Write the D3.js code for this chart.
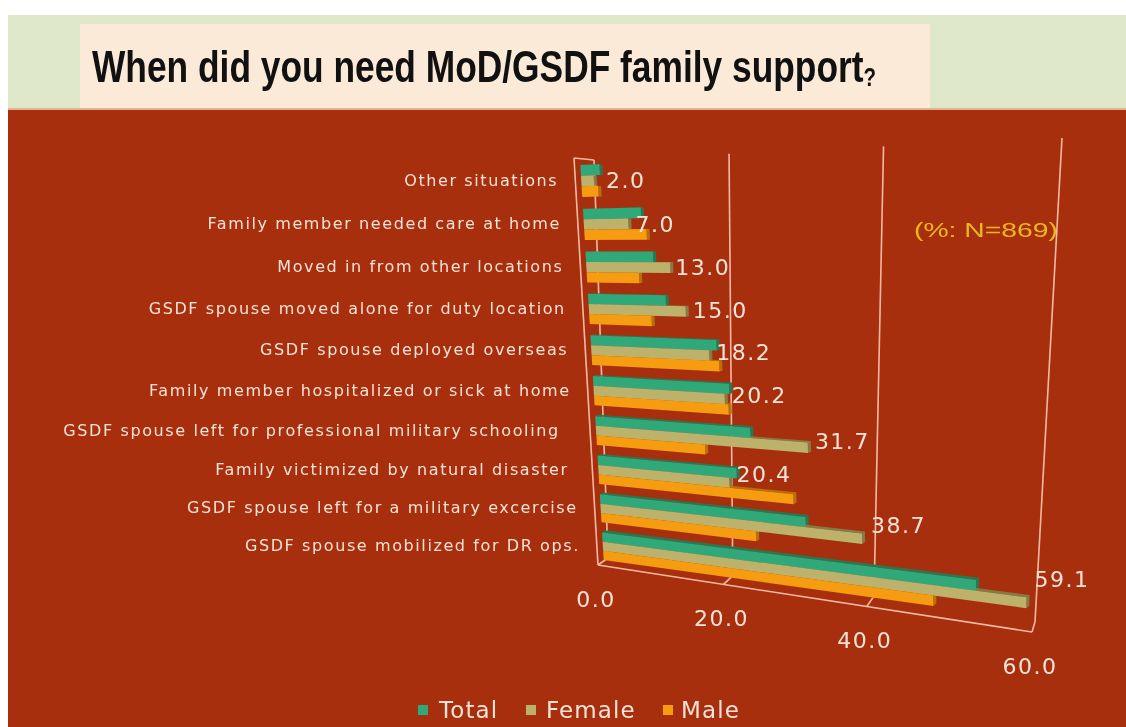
<!DOCTYPE html>
<html><head><meta charset="utf-8">
<script src="https://cdn.jsdelivr.net/npm/d3@7"></script>
<style>
html,body{margin:0;padding:0;background:#fff}
svg{display:block;filter:blur(0.5px)}
text{white-space:pre}
</style></head><body><svg id="c" width="1126" height="727"></svg>
<script>
const categories=["Other situations","Family member needed care at home","Moved in from other locations","GSDF spouse moved alone for duty location","GSDF spouse deployed overseas","Family member hospitalized or sick at home","GSDF spouse left for professional military schooling  ","Family victimized by natural disaster ","GSDF spouse left for a military excercise","GSDF spouse mobilized for DR ops."];
const seriesNames=["Total","Female","Male"];
const total=[3.0,9.0,10.5,12.1,19.3,20.9,23.7,21.5,31.1,53.1];
const female=[2.0,7.0,13.0,15.0,18.2,20.2,31.7,20.4,38.7,59.1];
const male=[2.6,9.7,8.2,9.8,19.6,20.7,17.0,29.5,24.0,47.8];
const ticks=[0,20,40,60];
const colors=["#2fa87a","#bcb26c","#f59c10"];
const darkColors=["#257a54","#857c45","#b8700c"];
const labelNudgeX=[5,0,-2,0,0,0,0,0,2,1];
const labelNudgeY=[-1,0,-1,-1,-3,-4,-7,-9,-14,-24];
const ink="#f7e3d6", rule="#f6b9a2";

const svg=d3.select("#c");
function homography(q){
  const [a,b,c,d]=q;
  const dx1=b[0]-c[0],dx2=d[0]-c[0],sx=a[0]-b[0]+c[0]-d[0];
  const dy1=b[1]-c[1],dy2=d[1]-c[1],sy=a[1]-b[1]+c[1]-d[1];
  const den=dx1*dy2-dx2*dy1;
  const g=(sx*dy2-dx2*sy)/den,h=(dx1*sy-sx*dy1)/den;
  const A=b[0]-a[0]+g*b[0],B=d[0]-a[0]+h*d[0],C=a[0];
  const D=b[1]-a[1]+g*b[1],E=d[1]-a[1]+h*d[1],F=a[1];
  return (u,t)=>{const w=g*u+h*t+1;return [(A*u+B*t+C)/w,(D*u+E*t+F)/w];};
}
const barPlane=homography([[580,159],[1037,139],[1034,626],[604,565]]);
const wallPlane=homography([[594,160],[1062,138],[1035,622],[608,558]]);
const floorPlane=homography([[608,558],[1035,622],[1032,632],[598,565]]);

const x=d3.scaleLinear().domain([0,60]).range([0,1]);
const K=0.025;
const depthT=t=>t*(1+K)/(1+K*t);
const y=d3.scaleBand().domain(categories).range([0,1]).paddingInner(0.27).paddingOuter(0.135);
const ySub=d3.scaleBand().domain(seriesNames).range([0,y.bandwidth()]);
const P=(v,t)=>barPlane(x(v),depthT(t));
const depthOff=t=>[3,0.5-3*t];

const line=d3.line();
svg.append("rect").attr("x",8).attr("y",15).attr("width",1118).attr("height",93).attr("fill","#dfe8c8");
svg.append("rect").attr("x",80).attr("y",24).attr("width",850).attr("height",84).attr("fill","#fbead8");
svg.append("rect").attr("x",8).attr("y",108).attr("width",1118).attr("height",3).attr("fill","#e0b48e");
svg.append("rect").attr("x",8).attr("y",110).attr("width",1118).attr("height",617).attr("fill","#a72f0e");
const title=svg.append("text").attr("x",92).attr("y",82).attr("font-family","'Liberation Sans Narrow','Liberation Sans'").attr("font-weight",700).attr("font-size",45).attr("fill","#111").attr("textLength",784).attr("lengthAdjust","spacingAndGlyphs");
title.append("tspan").text("When did you need MoD/GSDF family support");
title.append("tspan").attr("font-family","'Liberation Sans'").attr("font-size",26).attr("dy",4).text("?");

const frame=svg.append("g").attr("fill","none").attr("stroke",rule).attr("stroke-width",1.6);
ticks.forEach(v=>{
  frame.append("path").attr("d",line([wallPlane(x(v),0),wallPlane(x(v),1)]));
  frame.append("path").attr("d",line([floorPlane(x(v),0),floorPlane(x(v),1)]));
});
frame.append("path").attr("d",line([floorPlane(0,1),floorPlane(1,1)]));
frame.append("path").attr("d",line([[574,158],wallPlane(0,0)]));
frame.append("path").attr("d",line([[574,158],floorPlane(0,1)]));

categories.forEach((cat,i)=>{
  const vals=[total[i],female[i],male[i]];
  const g=svg.append("g");
  seriesNames.forEach((s,k)=>{
    const t0=y(cat)+ySub(s),t1=t0+ySub.bandwidth(),v=vals[k];
    const off=depthOff(t0);
    const sh=p=>[p[0]+off[0],p[1]+off[1]];
    g.append("path").attr("fill",darkColors[k]).attr("d",line([P(0,t0),sh(P(0,t0)),sh(P(v,t0)),sh(P(v,t1)),P(v,t1),P(v,t0)])+"Z");
  });
  seriesNames.forEach((s,k)=>{
    const t0=y(cat)+ySub(s),t1=t0+ySub.bandwidth(),v=vals[k];
    g.append("path").attr("fill",colors[k]).attr("d",line([P(0,t0),P(v,t0),P(v,t1),P(0,t1)])+"Z");
  });
});

categories.forEach(cat=>{
  const p=P(0,y(cat)+y.bandwidth()/2);
  svg.append("text").attr("x",p[0]-23).attr("y",p[1]+5).attr("text-anchor","end")
    .attr("font-family","'DejaVu Sans'").attr("font-size",16).attr("letter-spacing",1.6).attr("fill",ink).text(cat);
});
categories.forEach((cat,i)=>{
  const t=y(cat)+ySub("Female")+ySub.bandwidth()/2;
  const p=P(female[i],t);
  svg.append("text").attr("x",p[0]+7+labelNudgeX[i]).attr("y",p[1]+8+labelNudgeY[i])
    .attr("font-family","'DejaVu Sans'").attr("font-size",22).attr("letter-spacing",1.5).attr("fill",ink).text(female[i].toFixed(1));
});
ticks.forEach(v=>{
  const p=floorPlane(x(v),1);
  svg.append("text").attr("x",p[0]-2).attr("y",p[1]+42).attr("text-anchor","middle")
    .attr("font-family","'DejaVu Sans'").attr("font-size",22).attr("letter-spacing",1.5).attr("fill",ink).text(v.toFixed(1));
});
svg.append("text").attr("x",914).attr("y",237).attr("font-family","'Liberation Sans'").attr("font-size",21).attr("fill","#e9b91c").attr("textLength",144).attr("lengthAdjust","spacingAndGlyphs").text("(%: N=869)");
const lgSwatch=d3.scaleOrdinal().domain(seriesNames).range([418,526,663]);
const lgText=d3.scaleOrdinal().domain(seriesNames).range([439,546,681]);
seriesNames.forEach((s,k)=>{
  svg.append("rect").attr("x",lgSwatch(s)).attr("y",705).attr("width",10).attr("height",10).attr("fill",colors[k]);
  svg.append("text").attr("x",lgText(s)).attr("y",718).attr("font-family","'DejaVu Sans'").attr("font-size",23).attr("letter-spacing",1.1).attr("fill",ink).text(s);
});
</script></body></html>
